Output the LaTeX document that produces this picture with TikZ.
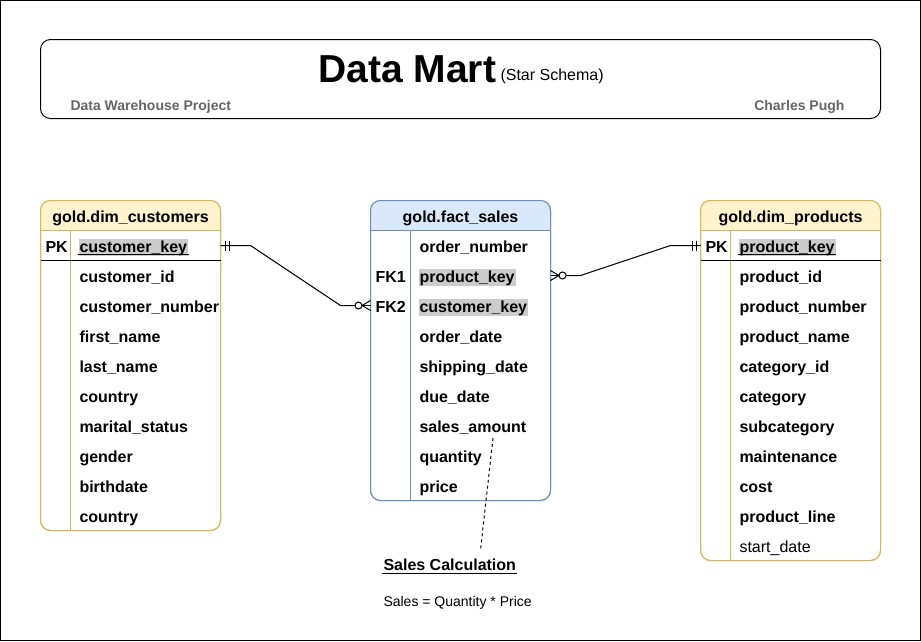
\documentclass[tikz,border=0pt]{standalone}
\usepackage{fontspec}
\setmainfont{Liberation Sans}
\usetikzlibrary{calc}
\definecolor{ylwF}{HTML}{FFF2CC}
\definecolor{ylwD}{HTML}{D6B656}
\definecolor{bluF}{HTML}{DAE8FC}
\definecolor{bluD}{HTML}{6C8EBF}
\definecolor{hl}{HTML}{CCCCCC}
\definecolor{subgray}{HTML}{666666}
\tikzset{
  fld/.style={anchor=base west, inner sep=1pt, font=\fontsize{16}{19}\selectfont\bfseries},
  fldn/.style={anchor=base west, inner sep=1pt, font=\fontsize{16}{19}\selectfont},
  hdr/.style={anchor=base, inner sep=0pt, font=\fontsize{16}{19}\selectfont\bfseries},
  conn/.style={line width=1pt, black},
}
\begin{document}
\begin{tikzpicture}[x=1pt,y=-1pt,line width=1pt]
\useasboundingbox (0,0) rectangle (921,641);
\draw[black] (0.5,0.5) rectangle (920.5,640.5);

% title box
\draw[black, rounded corners=10] (40.5,39.5) rectangle (880.5,118.5);
\node[anchor=base west, inner sep=0pt, font=\fontsize{39}{43}\selectfont\bfseries] (title) at (318,82) {Data Mart};
\node[anchor=base west, inner sep=0pt, font=\fontsize{16}{19}\selectfont] (sub) at (500,80) {(Star Schema)};
\node[anchor=base west, inner sep=0pt, text=subgray, font=\fontsize{14}{17}\selectfont\bfseries] (proj) at (70,110) {Data Warehouse Project};
\node[anchor=base east, inner sep=0pt, text=subgray, font=\fontsize{14}{17}\selectfont\bfseries] (author) at (845,110) {Charles Pugh};

% ---------- customers table
\draw[ylwD, fill=white, rounded corners=10] (40.5,200.5) rectangle (220.5,530.5);
\begin{scope}
  \clip (40,200) rectangle (221,230.5);
  \fill[ylwF, rounded corners=10] (40.5,200.5) rectangle (220.5,530.5);
\end{scope}
\draw[ylwD, rounded corners=10] (40.5,200.5) rectangle (220.5,530.5);
\draw[ylwD] (40.5,230.5) -- (220.5,230.5);
\draw[ylwD] (70.5,230.5) -- (70.5,530.5);
\draw[black] (40.5,260.5) -- (220.5,260.5);
\node[hdr] (cH) at (130.5,222) {gold.dim\_customers};
\node[fld] (cPKl) at (44,252) {PK};
\node[fld, fill=hl] (cPK) at (78,252) {customer\_key};
\draw[black] ([yshift=-2.5pt]cPK.base west) -- ([yshift=-2.5pt]cPK.base east);
\foreach \t [count=\i] in {customer\_id, customer\_number, first\_name, last\_name, country, marital\_status, gender, birthdate, country}
  \node[fld] (c\i) at (78,252+30*\i) {\t};

% ---------- fact table
\draw[bluD, fill=white, rounded corners=10] (370.5,200.5) rectangle (550.5,500.5);
\begin{scope}
  \clip (370,200) rectangle (551,230.5);
  \fill[bluF, rounded corners=10] (370.5,200.5) rectangle (550.5,500.5);
\end{scope}
\draw[bluD, rounded corners=10] (370.5,200.5) rectangle (550.5,500.5);
\draw[bluD] (370.5,230.5) -- (550.5,230.5);
\draw[bluD] (410.5,230.5) -- (410.5,500.5);
\node[hdr] (fH) at (460.5,222) {gold.fact\_sales};
\node[fld] (f0) at (418,252) {order\_number};
\node[fld] (fFK1l) at (374,282) {FK1};
\node[fld, fill=hl] (f1) at (418,282) {product\_key};
\node[fld] (fFK2l) at (374,312) {FK2};
\node[fld, fill=hl] (f2) at (418,312) {customer\_key};
\foreach \t [count=\i from 3] in {order\_date, shipping\_date, due\_date, sales\_amount, quantity, price}
  \node[fld] (f\i) at (418,252+30*\i) {\t};

% ---------- products table
\draw[ylwD, fill=white, rounded corners=10] (700.5,200.5) rectangle (880.5,560.5);
\begin{scope}
  \clip (700,200) rectangle (881,230.5);
  \fill[ylwF, rounded corners=10] (700.5,200.5) rectangle (880.5,560.5);
\end{scope}
\draw[ylwD, rounded corners=10] (700.5,200.5) rectangle (880.5,560.5);
\draw[ylwD] (700.5,230.5) -- (880.5,230.5);
\draw[ylwD] (730.5,230.5) -- (730.5,560.5);
\draw[black] (700.5,260.5) -- (880.5,260.5);
\node[hdr] (pH) at (790.5,222) {gold.dim\_products};
\node[fld] (pPKl) at (704,252) {PK};
\node[fld, fill=hl] (pPK) at (738,252) {product\_key};
\draw[black] ([yshift=-2.5pt]pPK.base west) -- ([yshift=-2.5pt]pPK.base east);
\foreach \t [count=\i] in {product\_id, product\_number, product\_name, category\_id, category, subcategory, maintenance, cost, product\_line}
  \node[fld] (p\i) at (738,252+30*\i) {\t};
\node[fldn] (p10) at (738,552) {start\_date};

% ---------- connector customers -> fact
\coordinate (cOut) at (220.5,245.5);
\coordinate (fIn) at (370.5,305.5);
\draw[conn] (cOut) -- ($(cOut)+(30,0)$) -- ($(fIn)+(-30,0)$) -- ($(fIn)+(-15.5,0)$);
\draw[conn] ($(cOut)+(5,-5)$) -- ($(cOut)+(5,5)$);
\draw[conn] ($(cOut)+(8.5,-5)$) -- ($(cOut)+(8.5,5)$);
\draw[conn] ($(fIn)+(-12,0)$) circle[radius=3.5];
\draw[conn] ($(fIn)+(-8.5,0)$) -- ($(fIn)+(0,-5)$);
\draw[conn] ($(fIn)+(-8.5,0)$) -- (fIn);
\draw[conn] ($(fIn)+(-8.5,0)$) -- ($(fIn)+(0,5)$);

% ---------- connector fact -> products
\coordinate (fOut) at (550.5,275.5);
\coordinate (pIn) at (700.5,245.5);
\draw[conn] ($(fOut)+(15.5,0)$) -- ($(fOut)+(30,0)$) -- ($(pIn)+(-30,0)$) -- (pIn);
\draw[conn] ($(fOut)+(12,0)$) circle[radius=3.5];
\draw[conn] ($(fOut)+(8.5,0)$) -- ($(fOut)+(0,-5)$);
\draw[conn] ($(fOut)+(8.5,0)$) -- (fOut);
\draw[conn] ($(fOut)+(8.5,0)$) -- ($(fOut)+(0,5)$);
\draw[conn] ($(pIn)+(-8.5,-5)$) -- ($(pIn)+(-8.5,5)$);
\draw[conn] ($(pIn)+(-4.5,-5)$) -- ($(pIn)+(-4.5,5)$);

% ---------- note
\node[fld] (calc) at (382,570) {Sales Calculation};
\draw[black] ([yshift=-3pt]calc.base west) -- ([yshift=-3pt]calc.base east);
\node[anchor=base west, inner sep=1pt, font=\fontsize{14}{17}\selectfont] (formula) at (382,606) {Sales = Quantity * Price};
\coordinate (noteA) at (493,438);
\coordinate (noteB) at (480.5,550);
\draw[conn, dash pattern=on 3pt off 3pt] (noteA) -- (noteB);
\end{tikzpicture}
\end{document}
